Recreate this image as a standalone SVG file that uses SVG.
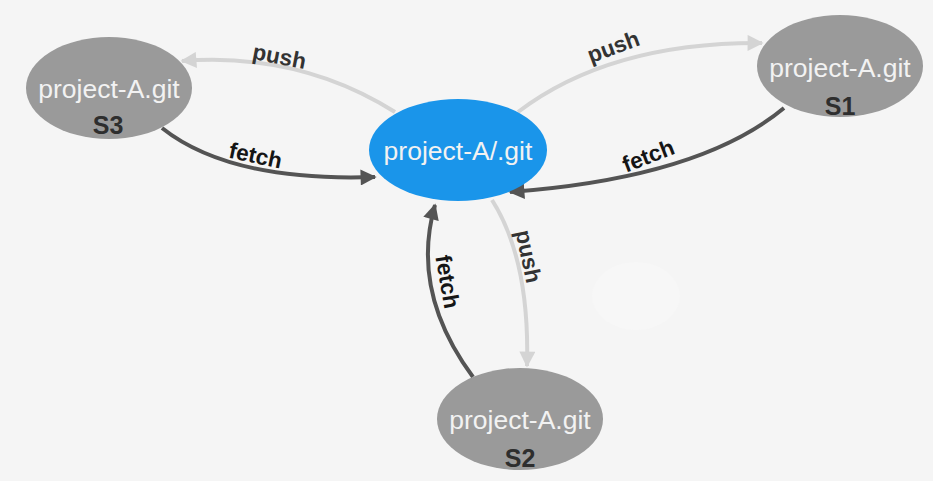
<svg xmlns="http://www.w3.org/2000/svg" width="933" height="481" viewBox="0 0 933 481">
<defs>
<style>
.node-gray{fill:#9a9a9a}
.node-blue{fill:#1a95ea}
.title{font-family:"Liberation Sans",Arial,sans-serif;font-size:26.5px;fill:#f2f2f2;text-anchor:middle}
.tag{font-family:"Liberation Sans",Arial,sans-serif;font-size:25px;font-weight:bold;fill:#2e2e2e;text-anchor:middle}
.push{fill:none;stroke:#d4d4d4;stroke-width:4}
.fetch{fill:none;stroke:#545454;stroke-width:4}
.lbl{font-family:"Liberation Sans",Arial,sans-serif;font-size:22.5px;font-weight:bold;text-anchor:middle}
.lp{fill:#333}
.lf{fill:#151515}
</style>
<marker id="ap" viewBox="0 0 10 10" refX="9" refY="5" markerWidth="4.2" markerHeight="4" orient="auto" markerUnits="strokeWidth">
<path d="M0,0 L10,5 L0,10 z" fill="#d4d4d4"/>
</marker>
<marker id="af" viewBox="0 0 10 10" refX="9" refY="5" markerWidth="4.2" markerHeight="4" orient="auto" markerUnits="strokeWidth">
<path d="M0,0 L10,5 L0,10 z" fill="#545454"/>
</marker>
</defs>
<rect width="933" height="481" fill="#f5f5f5"/>
<ellipse cx="636" cy="296" rx="44" ry="34" fill="#f7f7f7"/>

<g id="connectors">
<path class="push" d="M395 112 Q300 52 182 61" marker-end="url(#ap)"/>
<path class="push" d="M518 112 Q610 42 762 43" marker-end="url(#ap)"/>
<path class="fetch" d="M784 108 Q700 178 510 192" marker-end="url(#af)"/>
<path class="fetch" d="M162 128 Q230 182 375 177" marker-end="url(#af)"/>
<path class="push" d="M492 200 Q530 260 527 366" marker-end="url(#ap)"/>
<path class="fetch" d="M473 377 Q410 292 435 205" marker-end="url(#af)"/>
<text class="lbl lp" transform="translate(278,64) rotate(11)">push</text>
<text class="lbl lp" transform="translate(616,54) rotate(-20)">push</text>
<text class="lbl lf" transform="translate(254,163) rotate(12)">fetch</text>
<text class="lbl lf" transform="translate(651,163) rotate(-21)">fetch</text>
<text class="lbl lp" transform="translate(521,258) rotate(78)">push</text>
<text class="lbl lf" transform="translate(440,283) rotate(80)">fetch</text>
</g>

<g id="center">
<ellipse class="node-blue" cx="458" cy="150" rx="89" ry="51"/>
<text class="title" x="458" y="160" fill="#fff">project-A/.git</text>
</g>
<g id="s3">
<ellipse class="node-gray" cx="109" cy="88" rx="83" ry="51"/>
<text class="title" x="109" y="98">project-A.git</text>
<text class="tag" x="108" y="134">S3</text>
</g>
<g id="s1">
<ellipse class="node-gray" cx="840" cy="66" rx="83" ry="51"/>
<text class="title" x="840" y="77">project-A.git</text>
<text class="tag" x="840" y="115">S1</text>
</g>
<g id="s2">
<ellipse class="node-gray" cx="520" cy="419" rx="83" ry="51"/>
<text class="title" x="520" y="429">project-A.git</text>
<text class="tag" x="520" y="467">S2</text>
</g>
</svg>
